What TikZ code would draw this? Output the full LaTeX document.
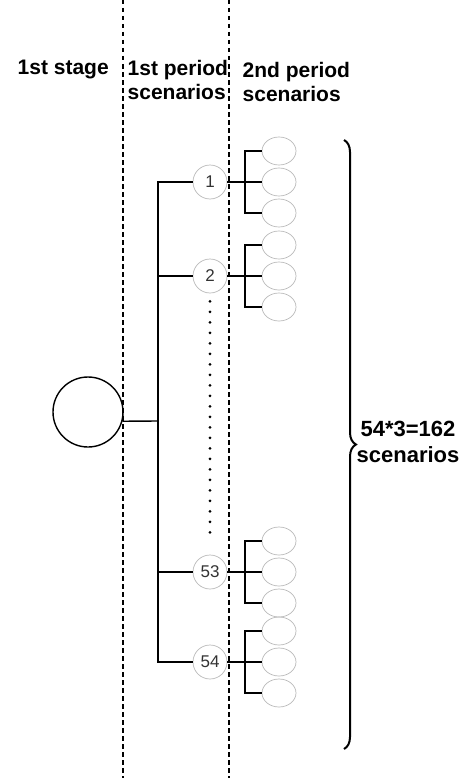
\documentclass[tikz,border=0pt]{standalone}
\usepackage{fontspec}
\setmainfont{Liberation Sans}
\usepackage{tikz}
\usetikzlibrary{decorations.pathreplacing, shapes.geometric}

\begin{document}
\begin{tikzpicture}[x = 1pt, y = -1pt, line width = 1.4pt,
								root/.style = {circle, draw, minimum size = 70pt,
								inner sep = 0pt},
								period/.style = {circle, draw = gray!55, line width = 0.7pt,
								minimum size = 34pt, inner sep = 0pt,
								font = \fontsize{17}{19}\selectfont, text = black!80},
								leaf/.style = {ellipse, draw = gray!55, line width = 0.7pt,
								minimum width = 34pt, minimum height = 28pt, inner sep = 0pt},
								head/.style = {align = left, inner sep = 0pt,
								font = \fontsize{21}{24}\selectfont\bfseries},
								sep/.style = {dash pattern = on 4.5pt off 3.5pt, line width = 1.3pt}]
				\useasboundingbox (0,0) rectangle (470,784);

				\draw [sep] (123,0) -- (123,778);
				\draw [sep] (229,0) -- (229,778);

				\node [head, anchor = west] (h_1) at (17,70) {1st stage};
				\node [head, anchor = west] (h_2) at (127,80) {1st period\\scenarios};
				\node [head, anchor = west] (h_3) at (242,82) {2nd period\\scenarios};

				\node [root] (r) at (88,412) {};
				\coordinate (j_0) at (158,421);

				\node [period] (s_1) at (210,182) {1};
				\node [period] (s_2) at (210,276) {2};
				\node [period] (s_53) at (210,572) {53};
				\node [period] (s_54) at (210,662) {54};

				\draw (r.-15) -- (j_0);
				\draw (s_1) -| (j_0);
				\draw (s_2) -| (j_0);
				\draw (s_53) -| (j_0);
				\draw (s_54) -| (j_0);
				\draw [line width = 3.2pt, line cap = round, dash pattern = on 0pt off 10.5pt,
				shorten < = 8pt, shorten > = 14pt] (s_2) -- (s_53);

				\node [leaf] (e_1_1) at (279,151) {};
				\node [leaf] (e_1_2) at (279,182) {};
				\node [leaf] (e_1_3) at (279,213) {};
				\node [leaf] (e_2_1) at (279,245) {};
				\node [leaf] (e_2_2) at (279,276) {};
				\node [leaf] (e_2_3) at (279,307) {};
				\node [leaf] (e_53_1) at (279,541) {};
				\node [leaf] (e_53_2) at (279,572) {};
				\node [leaf] (e_53_3) at (279,603) {};
				\node [leaf] (e_54_1) at (279,631) {};
				\node [leaf] (e_54_2) at (279,662) {};
				\node [leaf] (e_54_3) at (279,693) {};

				\coordinate (c_1) at (245,182);
				\coordinate (c_2) at (245,276);
				\coordinate (c_53) at (245,572);
				\coordinate (c_54) at (245,662);

				\draw (s_1) -- (e_1_2);
				\draw (e_1_1) -| (c_1) |- (e_1_3);
				\draw (s_2) -- (e_2_2);
				\draw (e_2_1) -| (c_2) |- (e_2_3);
				\draw (s_53) -- (e_53_2);
				\draw (e_53_1) -| (c_53) |- (e_53_3);
				\draw (s_54) -- (e_54_2);
				\draw (e_54_1) -| (c_54) |- (e_54_3);

				\coordinate (br_t) at (344,140);
				\coordinate (br_b) at (344,749);
				\draw [decorate, line width = 2pt, decoration = {brace, amplitude = 12pt}]
				(br_t) -- (br_b);
				\node [head, align = center, font = \fontsize{22}{26}\selectfont\bfseries]
				(tot) at (408,442) {54*3=162\\scenarios};
			\end{tikzpicture}
\end{document}
